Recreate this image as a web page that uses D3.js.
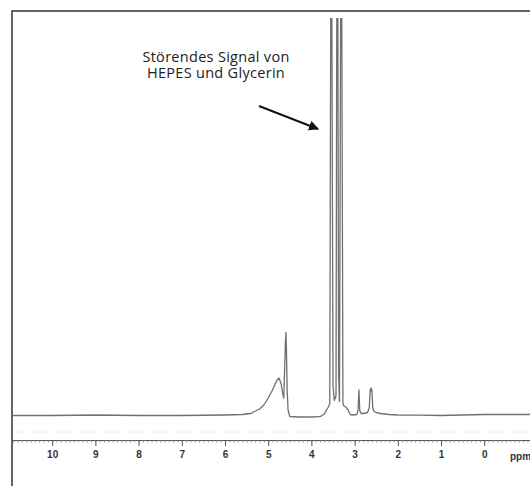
<!DOCTYPE html>
<html>
<head>
<meta charset="utf-8">
<script src="https://cdn.jsdelivr.net/npm/d3@7.9.0/dist/d3.min.js"></script>
<style>
  body { margin: 0; background: #fff; }
  svg { display: block; }
</style>
</head>
<body>
<svg width="530" height="486"></svg>
<script>
// spectrum: chemical shift (ppm) and intensity (arbitrary units)
const ppm = [
  11.0, 10.0, 9.0, 8.0, 7.0, 6.0, 5.6, 5.4, 5.2, 5.1, 5.0, 4.9, 4.85, 4.8, 4.75,
  4.7, 4.67, 4.64, 4.62, 4.6, 4.59, 4.58, 4.56, 4.54, 4.5, 4.3, 4.0, 3.8, 3.7,
  3.65, 3.6, 3.575, 3.55, 3.53, 3.5, 3.47, 3.43, 3.41, 3.39, 3.37, 3.35, 3.32,
  3.3, 3.27, 3.24, 3.2, 3.15, 3.1, 3.05, 2.95, 2.92, 2.9, 2.88, 2.85, 2.8, 2.7,
  2.66, 2.64, 2.62, 2.61, 2.6, 2.58, 2.55, 2.5, 2.4, 2.2, 2.0, 1.5, 1.0, 0.5,
  0.0, -1.1
];
const intensity = [
  0, 0, 0.5, 0, 0, 0.5, 1, 2, 6.5, 10.5, 17.5, 25.5, 30.5, 35, 37.5,
  31.5, 23.5, 17.5, 45, 75, 83, 70, 25, 5.5, -1, -1.5, -1.5, -1.2, 1.5,
  5.5, 9, 12, 450, 450, 30, 15, 20, 450, 450, 40, 14, 450,
  450, 12, 9, 8.5, 5.5, 1, 0.5, 1, 5, 25.5, 5, 2, 2, 3,
  8, 25, 27.5, 24, 26, 8, 4, 3, 2, 1, 0.5, 0.3, 0, 0.5,
  1, 1
];
const majorTicks = [10, 9, 8, 7, 6, 5, 4, 3, 2, 1, 0];
const unitLabel = "ppm";
const noteLines = ["Störendes Signal von", "HEPES und Glycerin"];

const svg = d3.select("svg");

// ppm axis runs right to left
const x = d3.scaleLinear().domain([10.93, -1.06]).range([12, 530]);
const y = d3.scaleLinear().domain([0, 400]).range([415.5, 15.5]);

svg.append("clipPath").attr("id", "plot")
  .append("rect").attr("x", 12).attr("y", 18).attr("width", 518).attr("height", 420);

// frame (left + top only, the rest is cut off)
svg.append("path")
  .attr("d", "M12,486V11H530")
  .attr("fill", "none")
  .attr("stroke", "#333")
  .attr("stroke-width", 1.5);

// faint scan noise line above the ruler
svg.append("line")
  .attr("x1", 14).attr("x2", 530).attr("y1", 432).attr("y2", 432)
  .attr("stroke", "#ccc").attr("stroke-dasharray", "1,2").attr("stroke-width", 0.8);

const line = d3.line()
  .x((d, i) => x(ppm[i]))
  .y((d) => y(d));

svg.append("path")
  .datum(intensity)
  .attr("clip-path", "url(#plot)")
  .attr("d", line)
  .attr("fill", "none")
  .attr("stroke", "#707070")
  .attr("stroke-width", 1.3)
  .attr("stroke-linejoin", "round");

// minor ticks every 0.1 ppm
const minorAxis = d3.axisBottom(x)
  .tickValues(d3.range(-10, 110).map((v) => v / 10))
  .tickSize(2.5)
  .tickFormat("");
svg.append("g")
  .attr("transform", "translate(0,440)")
  .call(minorAxis)
  .call((g) => g.selectAll(".tick line").attr("stroke", "#777").attr("stroke-width", 0.8))
  .call((g) => g.select(".domain").attr("stroke", "#555").attr("stroke-width", 1));

const majorAxis = d3.axisBottom(x)
  .tickValues(majorTicks)
  .tickSize(6)
  .tickPadding(5)
  .tickFormat(d3.format("d"));
svg.append("g")
  .attr("transform", "translate(0,440)")
  .call(majorAxis)
  .call((g) => g.select(".domain").remove())
  .call((g) => g.selectAll(".tick line").attr("stroke", "#555"))
  .call((g) => g.selectAll(".tick text")
    .attr("font-family", "Liberation Sans, Arial, sans-serif")
    .attr("font-size", 10)
    .attr("font-weight", "bold")
    .attr("fill", "#333"));

svg.append("text")
  .attr("x", 510).attr("y", 460)
  .attr("font-family", "Liberation Sans, Arial, sans-serif")
  .attr("font-size", 10)
  .attr("font-weight", "bold")
  .attr("fill", "#333")
  .text(unitLabel);

// annotation
svg.selectAll(".note")
  .data(noteLines)
  .join("text")
  .attr("class", "note")
  .attr("x", 216)
  .attr("y", (d, i) => 61.7 + i * 16.6)
  .attr("text-anchor", "middle")
  .attr("font-family", "'Open Sans', Lato, sans-serif")
  .attr("font-size", 14.5)
  .attr("letter-spacing", 0.3)
  .attr("fill", "#222")
  .text((d) => d);

svg.append("defs").append("marker")
  .attr("id", "head")
  .attr("viewBox", "0 0 10 10")
  .attr("refX", 9).attr("refY", 5)
  .attr("markerWidth", 5).attr("markerHeight", 5)
  .attr("orient", "auto")
  .append("path").attr("d", "M0,0L10,5L0,10z").attr("fill", "#111");

svg.append("line")
  .attr("x1", 259).attr("y1", 106).attr("x2", 318).attr("y2", 129)
  .attr("stroke", "#111").attr("stroke-width", 2)
  .attr("marker-end", "url(#head)");
</script>
</body>
</html>
